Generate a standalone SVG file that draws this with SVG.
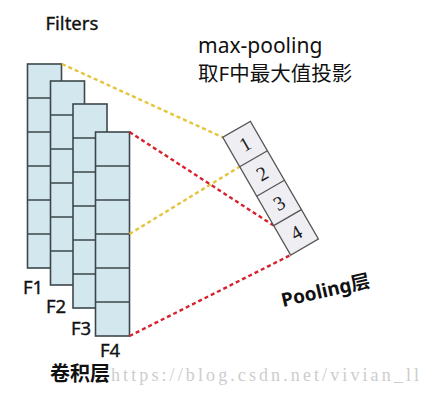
<svg xmlns="http://www.w3.org/2000/svg" width="437" height="407" viewBox="0 0 437 407">
<style>
.col{fill:#d3e8ee;stroke:#3c474b;stroke-width:1.6}
.cell{stroke:#3c474b;stroke-width:1.6}
.lbl{font-family:"Noto Sans","Liberation Sans",sans-serif;font-size:18.5px;fill:#111;stroke:#111;stroke-width:0.35}
.dy{fill:none;stroke:#e6c43a;stroke-width:2.4;stroke-dasharray:4 3}
.dr{fill:none;stroke:#d6222c;stroke-width:2.4;stroke-dasharray:4 3}
.pbox{fill:#efeff3;stroke:#555;stroke-width:1.3}
.num{font-family:"Liberation Serif","DejaVu Serif",serif;font-size:20px;fill:#222;text-anchor:middle;dominant-baseline:central}
</style>
<rect width="437" height="407" fill="#fff"/>
<text x="45.5" y="30" class="lbl" style="font-size:18.5px">Filters</text>
<text x="198" y="53" style="font-family:'Noto Sans','Liberation Sans',sans-serif;font-size:21px;fill:#111">max-pooling</text>
<text x="198" y="81" style="font-family:'Noto Sans','Noto Sans CJK SC',sans-serif;font-size:20.5px;fill:#111">取F中最大值投影</text>

<g id="F1">
<rect class="col" x="27.5" y="64" width="34" height="204"/>
<path class="cell" d="M27.5 98H61.5M27.5 132H61.5M27.5 166H61.5M27.5 200H61.5M27.5 234H61.5"/>
<text class="lbl" x="23" y="294">F1</text>
</g>
<g id="F2">
<rect class="col" x="50.5" y="81" width="34" height="204"/>
<path class="cell" d="M50.5 115H84.5M50.5 149H84.5M50.5 183H84.5M50.5 217H84.5M50.5 251H84.5"/>
<text class="lbl" x="46" y="312.5">F2</text>
</g>
<g id="F3">
<rect class="col" x="73" y="104" width="34" height="204"/>
<path class="cell" d="M73 138H107M73 172H107M73 206H107M73 240H107M73 274H107"/>
<text class="lbl" x="71" y="335">F3</text>
</g>
<g id="F4">
<rect class="col" x="95.5" y="132" width="34" height="204"/>
<path class="cell" d="M95.5 166H129.5M95.5 200H129.5M95.5 234H129.5M95.5 268H129.5M95.5 302H129.5"/>
<text class="lbl" x="100" y="356.5">F4</text>
</g>
<text x="50" y="381" style="font-family:'Noto Sans CJK SC',sans-serif;font-weight:bold;font-size:20px;fill:#111">卷积层</text>

<g id="connectors">
<line class="dy" x1="62" y1="64" x2="222.7" y2="137.3"/>
<line class="dy" x1="129.5" y1="234" x2="239.7" y2="166.7"/>
<line class="dr" x1="129.5" y1="132" x2="273.7" y2="225.6"/>
<line class="dr" x1="129.5" y1="336" x2="290.7" y2="255"/>
</g>

<g id="pooling" transform="translate(222.7,137.3) rotate(-30)">
<rect class="pbox" x="0" y="0" width="32" height="136"/>
<path fill="none" stroke="#555" stroke-width="1.3" d="M0 34H32M0 68H32M0 102H32"/>
<text class="num" x="16" y="17">1</text>
<text class="num" x="16" y="51">2</text>
<text class="num" x="16" y="85">3</text>
<text class="num" x="16" y="119">4</text>
</g>
<text transform="translate(283,307) rotate(-13)" style="font-family:'Noto Sans','Noto Sans CJK SC',sans-serif;font-weight:bold;font-size:19px;fill:#111">Pooling层</text>

<text x="111" y="381" textLength="308" lengthAdjust="spacing" style="font-family:'Liberation Serif',serif;font-size:18px;fill:#cdcdcd">https://blog.csdn.net/vivian_ll</text>
</svg>
